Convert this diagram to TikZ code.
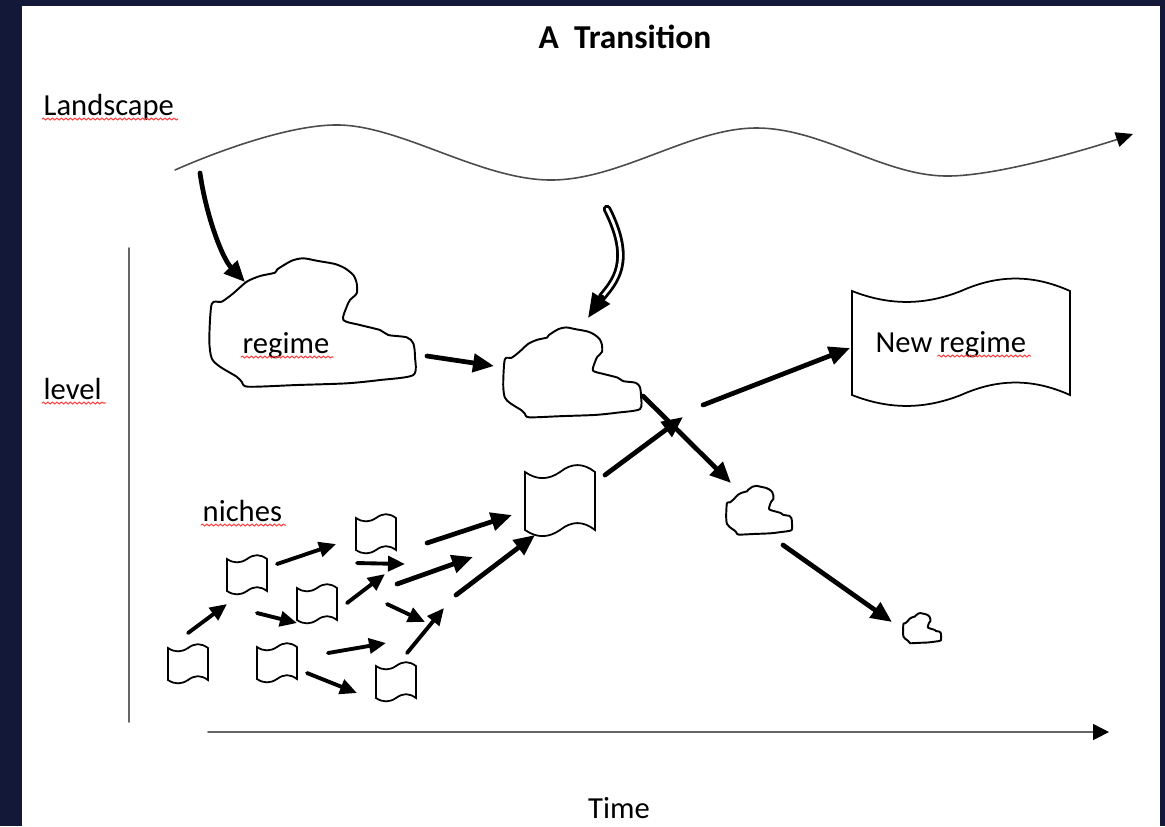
\documentclass[tikz,border=0pt]{standalone}
\usepackage{fontspec}
\setmainfont{Carlito}
\usetikzlibrary{arrows.meta,calc,decorations.pathmorphing}

\tikzset{
  blob/.style={draw, line width=0.55pt, line join=round},
  tape/.style={draw, line width=0.5pt},
  arr/.style={line width=1.1pt, -{Triangle[length=0.17cm,width=0.15cm]}},
  bigarr/.style={line width=1.35pt, -{Triangle[length=0.21cm,width=0.18cm]}},
  dbl/.style={double, line width=0.8pt, double distance=0.8pt},
  thinax/.style={line width=0.45pt, black!60},
  lbl/.style={font=\fontsize{8.7}{10}\selectfont, inner sep=0pt, anchor=base west},
  ttl/.style={font=\fontsize{9.5}{11}\selectfont\bfseries, inner sep=0pt, anchor=base},
  squig/.style={red!75, line width=0.3pt, decorate,
    decoration={snake, amplitude=0.09mm, segment length=0.45mm}},
  pics/cloud/.style={code={
    \draw[blob] plot[smooth cycle, tension=0.45] coordinates {
      (-100.3,-18) (-90.3,-20.3) (-78.7,-28.7) (-65.3,-40.3) (-52,-46)
      (-37,-49.3) (-34.7,-52.7) (-20.3,-61.3) (-8.7,-63.7) (4.7,-61.3)
      (23,-58) (33,-53.7) (41.3,-47) (44.7,-38.7) (44.7,-28.7) (38,-22)
      (34.7,-15.3) (31.3,-2) (48,3) (68,8) (76.3,13) (94.7,15.3)
      (101.3,21.3) (103,34.7) (101.3,53) (68,58) (34.7,61.3) (-15.3,63)
      (-63.7,64.7) (-70.3,59.7) (-75.3,54.7) (-92,44.7) (-100.3,36.3)
      (-102.7,18)};
    \coordinate (-c) at (0,0);}},
  pics/flag/.style={code={
    \draw[tape] (-0.5,-0.5) .. controls (-0.33,-0.36) and (-0.17,-0.36) .. (0,-0.5)
      .. controls (0.17,-0.66) and (0.33,-0.66) .. (0.5,-0.5) -- (0.5,0.5)
      .. controls (0.33,0.34) and (0.17,0.34) .. (0,0.5)
      .. controls (-0.17,0.64) and (-0.33,0.64) .. (-0.5,0.5) -- cycle;
    \coordinate (-c) at (0,0);}}
}

\begin{document}
\begin{tikzpicture}[x=0.01cm, y=-0.01cm, line cap=round]
\useasboundingbox (0,0) rectangle (1165,826);
\fill[fill={rgb,255:red,19;green,23;blue,56}] (0,0) rectangle (1165,826);
\fill[white] (22,6) rectangle (1160,826);

% labels
\node[ttl] (title) at (625,48) {A\ \ Transition};
\node[lbl] (land) at (43,115) {Landscape};
\node[lbl] (lev) at (43,399) {level};
\node[lbl] (reg) at (242,353) {regime};
\node[lbl] (newr) at (875,352) {New regime};
\node[lbl] (nich) at (202,521) {niches};
\node[lbl, anchor=base] (time) at (619,818) {Time};

% spelling marks
\draw[squig] ($(land.base west)+(-1,4)$) -- ($(land.base east)+(3,4)$);
\draw[squig] ($(lev.base west)+(-1,4)$) -- ($(lev.base east)+(3,4)$);
\draw[squig] ($(reg.base west)+(-1,4)$) -- ($(reg.base east)+(3,4)$);
\draw[squig] ($(newr.base east)+(-89,4)$) -- ($(newr.base east)+(4,4)$);
\draw[squig] ($(nich.base west)+(-1,4)$) -- ($(nich.base east)+(3,4)$);

% axes and landscape
\coordinate (yb) at (129,722);
\coordinate (yt) at (129,248);
\coordinate (xl) at (208,732);
\coordinate (xr) at (1109,732);
\draw[thinax] (yb) -- (yt);
\draw[thinax, -{Triangle[length=0.16cm,width=0.16cm,color=black]}] (xl) -- (xr);
\draw[thinax, black!70, -{Triangle[length=0.17cm,width=0.15cm,color=black]}]
  plot[smooth, tension=0.6] coordinates {(175,170) (340,125) (550,180) (755,128) (945,176) (1133,134)};

% regimes
\pic (cl1) at (312,322) {cloud};
\pic[xscale=0.67, yscale=0.70] (cl2) at (572,372) {cloud};
\pic[xscale=0.32, yscale=0.38] (cl3) at (759,510) {cloud};
\pic[xscale=0.185, yscale=0.235] (cl4) at (922,628) {cloud};
\pic[xscale=218, yscale=104] (nreg) at (961,343) {flag};

% niches
\pic[xscale=40, yscale=32] (f1) at (188,664) {flag};
\pic[xscale=40, yscale=32] (f2) at (247,575) {flag};
\pic[xscale=40, yscale=32] (f3) at (277,663) {flag};
\pic[xscale=40, yscale=32] (f4) at (317,604) {flag};
\pic[xscale=40, yscale=32] (f5) at (376,534) {flag};
\pic[xscale=40, yscale=32] (f6) at (396,682) {flag};
\pic[xscale=70, yscale=58] (f7) at (560,501) {flag};

% pressure from the landscape
\coordinate (p1) at (200,173);
\coordinate (p2) at (245,282);
\draw[bigarr] (p1) .. controls (206,215) and (222,258) .. (p2);
\coordinate (d1) at (607,209);
\coordinate (d2) at (602,297);
\coordinate (d3) at (588,318);
\draw[dbl] (d1) .. controls (634,262) and (614,282) .. (d2);
\draw[line width=1.35pt, -{Triangle[length=0.24cm,width=0.2cm]}] (d2) -- (d3);

% main arrows
\coordinate (a1) at (427,356); \coordinate (b1) at (494,366);
\coordinate (a2) at (643,396); \coordinate (b2) at (731,483);
\coordinate (a3) at (783,545); \coordinate (b3) at (892,622);
\coordinate (a4) at (605,475); \coordinate (b4) at (683,417);
\coordinate (a5) at (703,405); \coordinate (b5) at (850,348);
\coordinate (a6) at (397,584); \coordinate (b6) at (473,557);
\coordinate (a7) at (427,543); \coordinate (b7) at (512,515);
\coordinate (a8) at (456,595); \coordinate (b8) at (535,535);
\foreach \i in {1,...,8}{\draw[bigarr] (a\i) -- (b\i);}

% niche arrows
\coordinate (s1) at (188,633); \coordinate (e1) at (227,604);
\coordinate (s2) at (277,564); \coordinate (e2) at (336,544);
\coordinate (s3) at (257,613); \coordinate (e3) at (297,623);
\coordinate (s4) at (357,563); \coordinate (e4) at (405,564);
\coordinate (s5) at (347,603); \coordinate (e5) at (385,574);
\coordinate (s6) at (387,604); \coordinate (e6) at (425,622);
\coordinate (s7) at (328,653); \coordinate (e7) at (386,643);
\coordinate (s8) at (307,673); \coordinate (e8) at (357,693);
\coordinate (s9) at (407,653); \coordinate (e9) at (444,608);
\foreach \i in {1,...,9}{\draw[arr] (s\i) -- (e\i);}
\end{tikzpicture}
\end{document}
